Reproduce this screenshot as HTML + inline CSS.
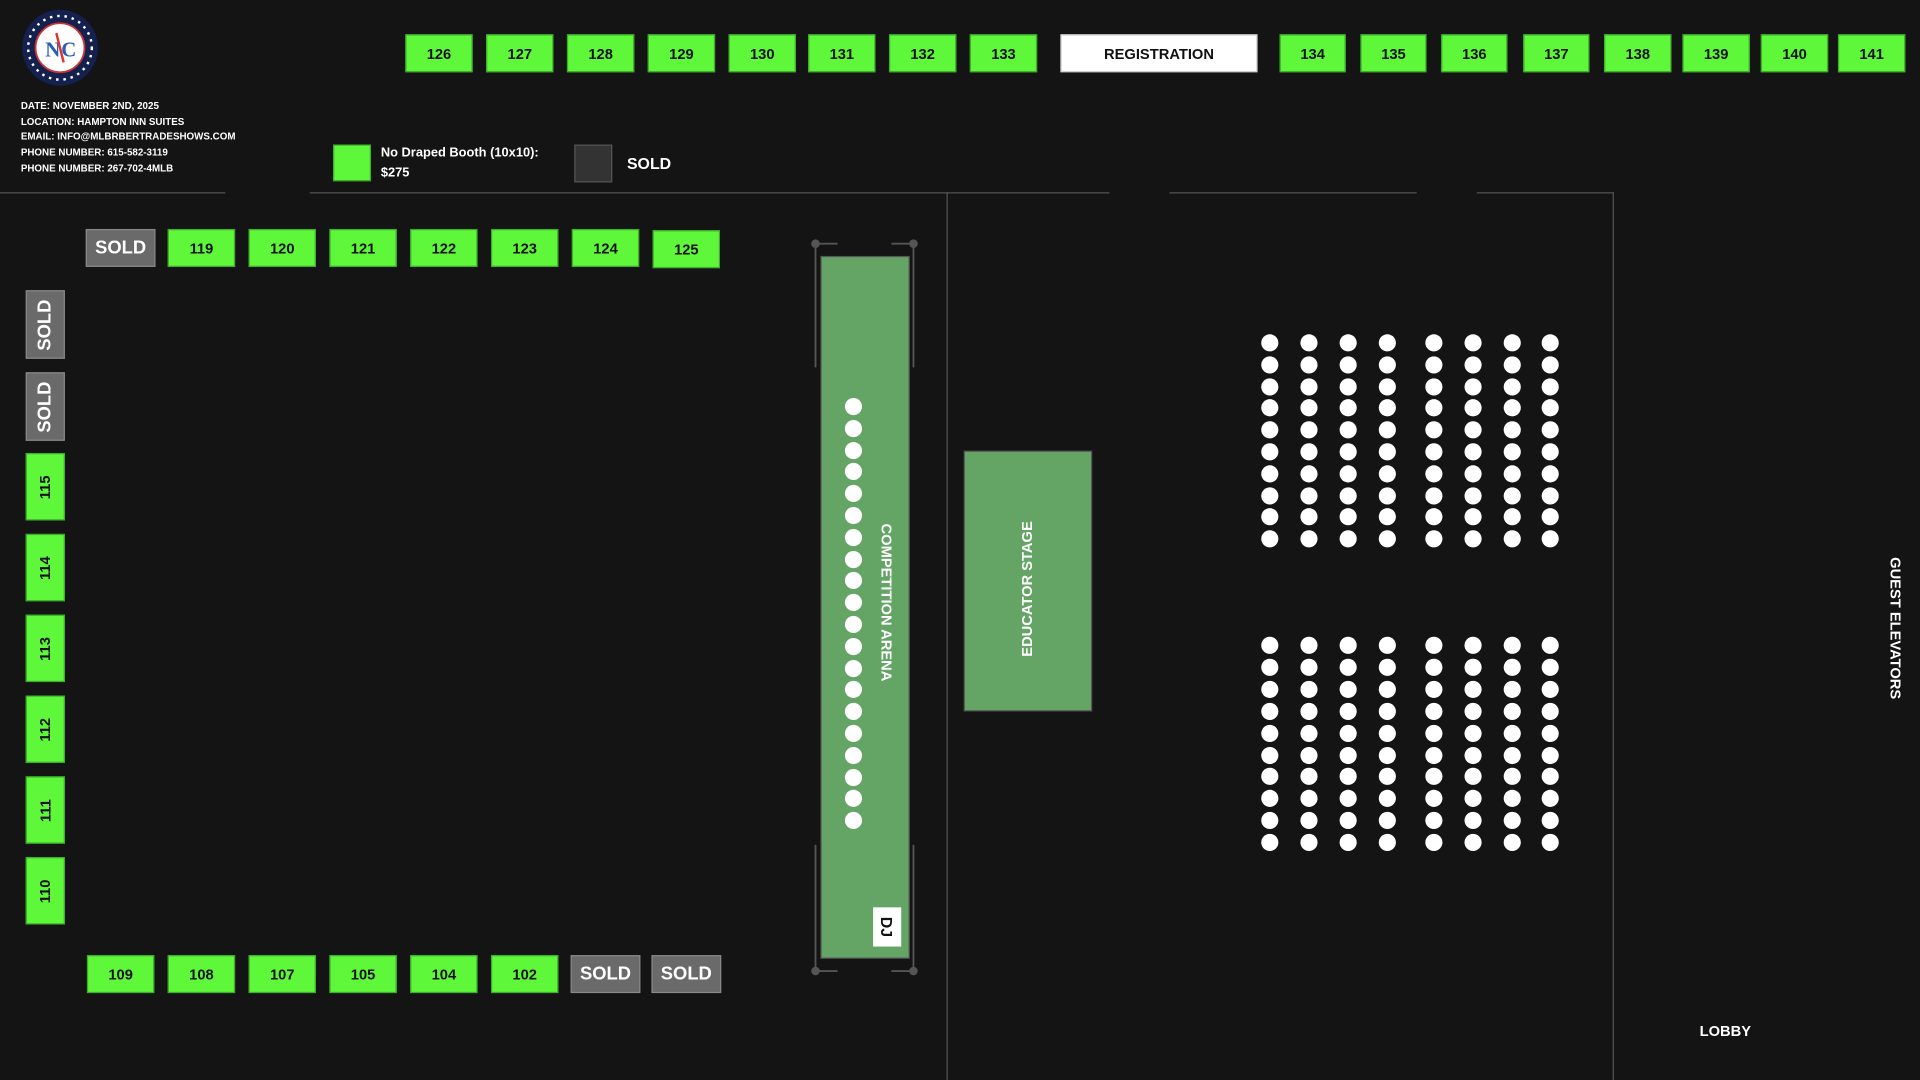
<!DOCTYPE html>
<html><head><meta charset="utf-8"><style>
html,body{margin:0;padding:0;background:#141414;width:1920px;height:1080px;overflow:hidden}
#s{position:absolute;left:0;top:0;width:1568px;height:882px;transform:scale(1.22449);transform-origin:0 0;font-family:"Liberation Sans",sans-serif;font-weight:bold;color:#fff}
.b{position:absolute;background:#5ef73a;border:1px solid #3fae2a;box-sizing:border-box;color:#111;font-size:12px;display:flex;align-items:center;justify-content:center}
.g{background:#6a6a6a;border-color:#888;color:#fff;font-size:15px}
.v span{transform:rotate(-90deg);white-space:nowrap}
.l{position:absolute;background:#555}
.d{position:absolute;width:14px;height:14px;border-radius:50%;background:#fff}
.t{position:absolute;font-size:8px;line-height:12.7px}
</style></head><body><div id="s">
<svg style="position:absolute;left:17px;top:7px" width="64" height="64"><circle cx="32" cy="32" r="31" fill="#14204e"/><circle cx="32" cy="32" r="26" fill="none" stroke="#fff" stroke-width="2" stroke-dasharray="2 4"/><circle cx="32" cy="32" r="20" fill="#fff" stroke="#c33" stroke-width="1.5"/><text x="20" y="39" font-size="17" font-family="Liberation Serif" font-weight="bold" fill="#2a5cb8">N</text><text x="33" y="39" font-size="17" font-family="Liberation Serif" font-weight="bold" fill="#2a5cb8">C</text><line x1="29" y1="20" x2="35" y2="44" stroke="#d33" stroke-width="2"/></svg>
<div class="t" style="left:17px;top:81px">DATE: NOVEMBER 2ND, 2025<br>LOCATION: HAMPTON INN SUITES<br>EMAIL: INFO@MLBRBERTRADESHOWS.COM<br>PHONE NUMBER: 615-582-3119<br>PHONE NUMBER: 267-702-4MLB</div>
<div class="b" style="left:272px;top:118px;width:31px;height:30px"></div>
<div style="position:absolute;left:311px;top:117px;font-size:10.5px;line-height:16px">No Draped Booth (10x10):<br>$275</div>
<div style="position:absolute;left:469px;top:118px;width:31px;height:31px;background:#333;border:1px solid #555;box-sizing:border-box"></div>
<div style="position:absolute;left:512px;top:126px;font-size:13px">SOLD</div>
<div class="b" style="left:331px;top:28px;width:55px;height:31px">126</div>
<div class="b" style="left:397px;top:28px;width:55px;height:31px">127</div>
<div class="b" style="left:463px;top:28px;width:55px;height:31px">128</div>
<div class="b" style="left:529px;top:28px;width:55px;height:31px">129</div>
<div class="b" style="left:595px;top:28px;width:55px;height:31px">130</div>
<div class="b" style="left:660px;top:28px;width:55px;height:31px">131</div>
<div class="b" style="left:726px;top:28px;width:55px;height:31px">132</div>
<div class="b" style="left:792px;top:28px;width:55px;height:31px">133</div>
<div class="b" style="left:866px;top:28px;width:161px;height:31px;background:#fff;border-color:#ccc">REGISTRATION</div>
<div class="b" style="left:1045px;top:28px;width:54px;height:31px">134</div>
<div class="b" style="left:1111px;top:28px;width:54px;height:31px">135</div>
<div class="b" style="left:1177px;top:28px;width:54px;height:31px">136</div>
<div class="b" style="left:1244px;top:28px;width:54px;height:31px">137</div>
<div class="b" style="left:1310px;top:28px;width:55px;height:31px">138</div>
<div class="b" style="left:1374px;top:28px;width:55px;height:31px">139</div>
<div class="b" style="left:1438px;top:28px;width:55px;height:31px">140</div>
<div class="b" style="left:1501px;top:28px;width:55px;height:31px">141</div>
<div class="l" style="left:0;top:157px;width:184px;height:1px"></div>
<div class="l" style="left:253px;top:157px;width:653px;height:1px"></div>
<div class="l" style="left:955px;top:157px;width:202px;height:1px"></div>
<div class="l" style="left:1206px;top:157px;width:112px;height:1px"></div>
<div class="l" style="left:773px;top:157px;width:1px;height:725px"></div>
<div class="l" style="left:1317px;top:157px;width:1px;height:725px"></div>
<div class="b g" style="left:70px;top:187px;width:57px;height:31px">SOLD</div>
<div class="b" style="left:137px;top:187px;width:55px;height:31px">119</div>
<div class="b" style="left:203px;top:187px;width:55px;height:31px">120</div>
<div class="b" style="left:269px;top:187px;width:55px;height:31px">121</div>
<div class="b" style="left:335px;top:187px;width:55px;height:31px">122</div>
<div class="b" style="left:401px;top:187px;width:55px;height:31px">123</div>
<div class="b" style="left:467px;top:187px;width:55px;height:31px">124</div>
<div class="b" style="left:533px;top:188px;width:55px;height:31px">125</div>
<div class="b g v" style="left:21px;top:237px;width:32px;height:56px"><span>SOLD</span></div>
<div class="b g v" style="left:21px;top:304px;width:32px;height:56px"><span>SOLD</span></div>
<div class="b v" style="left:21px;top:370px;width:32px;height:55px"><span>115</span></div>
<div class="b v" style="left:21px;top:436px;width:32px;height:55px"><span>114</span></div>
<div class="b v" style="left:21px;top:502px;width:32px;height:55px"><span>113</span></div>
<div class="b v" style="left:21px;top:568px;width:32px;height:55px"><span>112</span></div>
<div class="b v" style="left:21px;top:634px;width:32px;height:55px"><span>111</span></div>
<div class="b v" style="left:21px;top:700px;width:32px;height:55px"><span>110</span></div>
<div class="b" style="left:71px;top:780px;width:55px;height:31px">109</div>
<div class="b" style="left:137px;top:780px;width:55px;height:31px">108</div>
<div class="b" style="left:203px;top:780px;width:55px;height:31px">107</div>
<div class="b" style="left:269px;top:780px;width:55px;height:31px">105</div>
<div class="b" style="left:335px;top:780px;width:55px;height:31px">104</div>
<div class="b" style="left:401px;top:780px;width:55px;height:31px">102</div>
<div class="b g" style="left:466px;top:780px;width:57px;height:31px">SOLD</div>
<div class="b g" style="left:532px;top:780px;width:57px;height:31px">SOLD</div>
<svg style="position:absolute;left:0;top:0" width="1568" height="882">
<g stroke="#555" stroke-width="1.5" fill="none"><path d="M666 300V199H684M728 199H746V300M666 690V793H684M728 793H746V690"/></g>
<g fill="#555"><circle cx="666" cy="199" r="3.5"/><circle cx="746" cy="199" r="3.5"/><circle cx="666" cy="793" r="3.5"/><circle cx="746" cy="793" r="3.5"/></g>
<rect x="670.5" y="209.5" width="72" height="573" fill="#64a566" stroke="#555"/>
<rect x="787.5" y="368.5" width="104" height="212" fill="#64a566" stroke="#555"/>
<rect x="713" y="741" width="23" height="32" fill="#fff"/>
</svg>
<div style="position:absolute;left:724px;top:492px;transform:translate(-50%,-50%) rotate(90deg);font-size:12px;white-space:nowrap">COMPETITION ARENA</div>
<div style="position:absolute;left:839px;top:481px;transform:translate(-50%,-50%) rotate(-90deg);font-size:12px;white-space:nowrap">EDUCATOR STAGE</div>
<div style="position:absolute;left:724px;top:757px;transform:translate(-50%,-50%) rotate(90deg);font-size:13px;color:#111">DJ</div>
<div style="position:absolute;left:1548px;top:513px;transform:translate(-50%,-50%) rotate(90deg);font-size:12px;white-space:nowrap">GUEST ELEVATORS</div>
<div style="position:absolute;left:1388px;top:835px;font-size:12px">LOBBY</div>
<div id="dots"></div>
</div>
<script>
var h='';
for(var i=0;i<20;i++)h+='<div class="d" style="left:690px;top:'+(325+i*17.8)+'px"></div>';
var cx=[1037,1069,1101,1133,1171,1203,1235,1266];
for(var c=0;c<8;c++)for(var r=0;r<10;r++){h+='<div class="d" style="left:'+(cx[c]-7)+'px;top:'+(273+r*17.8)+'px"></div>';h+='<div class="d" style="left:'+(cx[c]-7)+'px;top:'+(520+r*17.9)+'px"></div>';}
document.getElementById('dots').innerHTML=h;
</script>
</body></html>
